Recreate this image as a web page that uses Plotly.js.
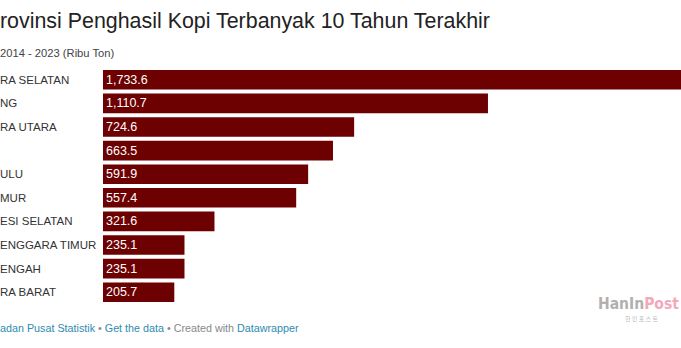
<!DOCTYPE html>
<html>
<head>
<meta charset="utf-8">
<script src="https://cdn.plot.ly/plotly-3.0.1.min.js"></script>
<style>
  html, body { margin: 0; padding: 0; background: #ffffff; overflow: hidden; }
  #chart { width: 681px; height: 348px; }
</style>
</head>
<body>
<div id="chart"></div>
<script>
// Data
const provinces = [
  "SUMATERA SELATAN",
  "LAMPUNG",
  "SUMATERA UTARA",
  "ACEH",
  "BENGKULU",
  "JAWA TIMUR",
  "SULAWESI SELATAN",
  "NUSA TENGGARA TIMUR",
  "JAWA TENGAH",
  "SUMATERA BARAT"
];
// Category labels as far as the (cropped) reference shows them
const visibleLabels = [
  "RA SELATAN",
  "NG",
  "RA UTARA",
  "",
  "ULU",
  "MUR",
  "ESI SELATAN",
  "ENGGARA TIMUR",
  "ENGAH",
  "RA BARAT"
];
const production = [1733.6, 1110.7, 724.6, 663.5, 591.9, 557.4, 321.6, 235.1, 235.1, 205.7];

const titleText = "rovinsi Penghasil Kopi Terbanyak 10 Tahun Terakhir";
const subtitleText = "2014 - 2023 (Ribu Ton)";
const footerSource = "adan Pusat Statistik";

// Layout geometry (pixels)
const W = 681, H = 348;
const mL = 103, mR = 0, mT = 68, mB = 44;
const plotW = W - mL - mR, plotH = H - mT - mB;
const px2x = px => (px - mL) / plotW;
const py2y = py => (H - mB - py) / plotH;

const barColor = "#6d0000";
const font = "Arial, 'Liberation Sans', sans-serif";

const trace = {
  type: "bar",
  orientation: "h",
  y: provinces,
  x: production,
  marker: { color: barColor, line: { width: 0 } },
  texttemplate: "%{x:,.1f}",
  textposition: "inside",
  insidetextanchor: "start",
  textfont: { color: "#ffffff", size: 12.5, family: font },
  constraintext: "none",
  hoverinfo: "skip",
  cliponaxis: true
};

const annotations = [];

provinces.forEach((p, i) => {
  if (!visibleLabels[i]) return;
  annotations.push({
    xref: "paper", yref: "y",
    x: px2x(-2), y: p,
    xanchor: "left", yanchor: "middle",
    text: visibleLabels[i], showarrow: false,
    font: { family: font, size: 11.5, color: "#333333" }
  });
});

// Title
annotations.push({
  xref: "paper", yref: "paper",
  x: px2x(-2), y: py2y(21),
  xanchor: "left", yanchor: "middle",
  text: titleText, showarrow: false,
  font: { family: font, size: 21.4, color: "#222222" }
});
// Subtitle
annotations.push({
  xref: "paper", yref: "paper",
  x: px2x(-2), y: py2y(53),
  xanchor: "left", yanchor: "middle",
  text: subtitleText, showarrow: false,
  font: { family: font, size: 11.2, color: "#444444" }
});
// Footer
annotations.push({
  xref: "paper", yref: "paper",
  x: px2x(-2), y: py2y(328),
  xanchor: "left", yanchor: "middle",
  text: footerSource +
        "<span style='color:#888888'> • </span>Get the data" +
        "<span style='color:#888888'> • Created with </span>Datawrapper",
  showarrow: false,
  font: { family: font, size: 10.75, color: "#2f8bb0" }
});
// Watermark
annotations.push({
  xref: "paper", yref: "paper",
  x: px2x(681), y: py2y(304),
  xanchor: "right", yanchor: "middle",
  text: "<b>HanIn<span style='color:#f2a9bb'>Post</span></b>",
  showarrow: false,
  font: { family: "'Liberation Sans Narrow', 'DejaVu Sans Condensed', Arial, sans-serif", size: 15.5, color: "#b0b0b0" }
});
annotations.push({
  xref: "paper", yref: "paper",
  x: px2x(641), y: py2y(318),
  xanchor: "center", yanchor: "middle",
  text: "한 인 포 스 트",
  showarrow: false,
  font: { family: "'Noto Sans CJK KR', sans-serif", size: 6, color: "#b8b8b8" }
});

const layout = {
  width: W, height: H,
  margin: { l: mL, r: mR, t: mT, b: mB, pad: 0 },
  paper_bgcolor: "#ffffff",
  plot_bgcolor: "#ffffff",
  showlegend: false,
  bargap: 0.17,
  hovermode: false,
  xaxis: {
    range: [0, (W - mL) / 0.3466],
    visible: false, showgrid: false, zeroline: false, fixedrange: true
  },
  yaxis: {
    type: "category",
    categoryorder: "array",
    categoryarray: provinces,
    autorange: "reversed",
    showticklabels: false, showgrid: false, zeroline: false, ticks: "",
    fixedrange: true
  },
  annotations: annotations
};

Plotly.newPlot("chart", [trace], layout, { displayModeBar: false, staticPlot: true });
</script>
</body>
</html>
